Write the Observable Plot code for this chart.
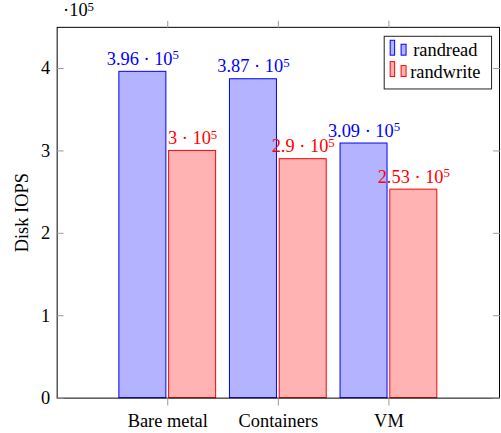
<!DOCTYPE html>
<html>
<head>
<meta charset="utf-8">
<script src="https://cdn.jsdelivr.net/npm/d3@7"></script>
<script src="https://cdn.jsdelivr.net/npm/@observablehq/plot@0.6"></script>
<style>
  html, body { margin: 0; padding: 0; background: #fff; overflow: hidden; }
  #chart { width: 501px; height: 433px; overflow: hidden; }
</style>
</head>
<body>
<div id="chart"></div>
<script>
// ---- data (values in units of 10^5 IOPS) ----
const categories = ["Bare metal", "Containers", "VM"];
const seriesNames = ["randread", "randwrite"];
const randread = [3.96, 3.87, 3.09];
const randwrite = [3.00, 2.90, 2.53];
const yTicks = [0, 1, 2, 3, 4];
const yLabel = "Disk IOPS";
const seriesFill = ["#b3b3ff", "#ffb3b3"];
const seriesStroke = ["#0000ff", "#ff0000"];
const seriesOffset = [-0.225, 0.225];   // in category units
const barHalf = 0.2125;                  // half bar width, category units

const values = [randread, randwrite];
const bars = [];
seriesNames.forEach((s, si) => {
  categories.forEach((c, ci) => {
    const v = values[si][ci];
    bars.push({
      series: s, si, category: c, pos: ci + 1 + seriesOffset[si], value: v,
      label: `${+v.toFixed(2)} \u00B7 10^5`
    });
  });
});

const font = "'Liberation Serif', 'Times New Roman', serif";

const chart = Plot.plot({
  width: 504,
  height: 433,
  marginLeft: 57,
  marginRight: 2,
  marginTop: 27,
  marginBottom: 33,
  style: { fontFamily: font, fontSize: "18.5px", background: "#fff", color: "#000", overflow: "visible" },
  x: { domain: [0, categories.length + 1] },
  y: { domain: [0, 4.5] },
  marks: [
    Plot.rectY(bars, {
      x1: d => d.pos - barHalf, x2: d => d.pos + barHalf, y1: 0, y2: "value",
      fill: d => seriesFill[d.si], stroke: d => seriesStroke[d.si], strokeWidth: 1
    }),
    Plot.frame({ stroke: "#000", strokeWidth: 1 }),
    // inward y ticks (left and right)
    Plot.axisY({ ticks: yTicks, tickSize: -7, stroke: "#999", tickFormat: () => "", label: null }),
    Plot.axisY({ anchor: "right", ticks: yTicks, tickSize: -7, stroke: "#999", tickFormat: () => "", label: null }),
    // y tick labels
    Plot.axisY({ ticks: yTicks, tickSize: 0, tickPadding: 7, tickFormat: d => String(d), label: null, fill: "#000" }),
    // y axis title
    Plot.text([yLabel], {
      frameAnchor: "left", text: d => d, rotate: -90, textAnchor: "middle", lineAnchor: "bottom", dx: -29, fill: "#000"
    }),
    // x ticks (outward) and labels
    Plot.axisX({ ticks: [1, 2, 3], tickSize: 8, stroke: "#999", tickFormat: () => "", label: null }),
    Plot.axisX({ ticks: [1, 2, 3], tickSize: 0, tickPadding: 16, tickFormat: d => categories[d - 1], label: null, fill: "#000" }),
    Plot.axisX({ anchor: "top", ticks: [1, 2, 3], tickSize: 7, stroke: "#999", tickFormat: () => "", label: null }),
    // value labels
    Plot.text(bars, {
      x: "pos", y: "value", text: "label", fill: d => seriesStroke[d.si],
      lineAnchor: "bottom", dy: -7, textAnchor: "middle"
    }),
    // exponent marker
    Plot.text(["\u00B710^5"], {
      frameAnchor: "top-left", text: d => d, textAnchor: "start", lineAnchor: "bottom", dx: 6, dy: -11, fill: "#000"
    })
  ]
});

// render superscripts "^n" as real tspans
d3.select(chart).selectAll("text").each(function () {
  if (this.childElementCount) return;
  const t = this.textContent;
  const i = t.indexOf("^");
  if (i < 0) return;
  this.textContent = t.slice(0, i);
  d3.select(this).append("tspan").attr("dy", "-0.42em").attr("font-size", "0.7em").text(t.slice(i + 1));
});

// legend (pgfplots-style box, top right)
const svg = d3.select(chart);
const lg = svg.append("g").attr("font-family", font).attr("font-size", "18.5px");
lg.append("rect").attr("x", 386.5).attr("y", 36.5).attr("width", 108).attr("height", 53)
  .attr("fill", "#fff").attr("stroke", "#222").attr("stroke-width", 1);
seriesNames.forEach((s, i) => {
  const y0 = 40.5 + i * 21.5;
  lg.append("rect").attr("x", 392.5).attr("y", y0).attr("width", 4.5).attr("height", 15)
    .attr("fill", seriesFill[i]).attr("stroke", seriesStroke[i]);
  lg.append("rect").attr("x", 403.5).attr("y", y0 + 4).attr("width", 5).attr("height", 11)
    .attr("fill", seriesFill[i]).attr("stroke", seriesStroke[i]);
  lg.append("text").attr("x", 448).attr("y", 56.7 + i * 21.5).attr("text-anchor", "middle")
    .attr("fill", "#000").text(s);
});

document.getElementById("chart").appendChild(chart);
</script>
</body>
</html>
